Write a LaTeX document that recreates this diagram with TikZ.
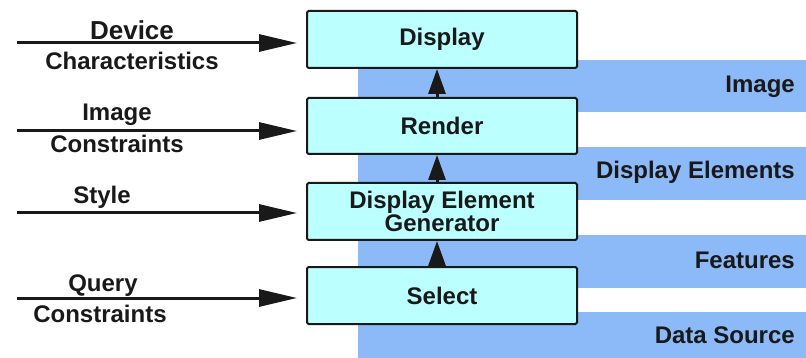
\documentclass[tikz,border=0pt]{standalone}
\usepackage{fontspec}
\setmainfont{Liberation Sans}
\usetikzlibrary{arrows.meta}
\definecolor{bandblue}{RGB}{140,185,248}
\definecolor{boxcyan}{RGB}{188,255,255}
\definecolor{ink}{RGB}{25,25,25}
\begin{document}
\begin{tikzpicture}[x=1pt,y=-1pt,
  procbox/.style={draw=ink,line width=2pt,fill=boxcyan,rounded corners=1.5pt,
    minimum width=270pt,minimum height=57pt,inner sep=0pt,align=center,
    font=\fontsize{24}{26}\selectfont\bfseries,text=ink},
  lbl/.style={font=\fontsize{24}{26}\selectfont\bfseries,text=ink,inner sep=0pt},
  biglbl/.style={font=\fontsize{26}{28}\selectfont\bfseries,text=ink,inner sep=0pt},
  inarrow/.style={draw=ink,line width=3pt,-{Triangle[length=38pt,width=17pt]},shorten >=9pt},
  uparrow/.style={draw=ink,line width=3pt,-{Triangle[length=25pt,width=17pt]}}
]
\useasboundingbox (0,0) rectangle (806,358);
\fill[white] (0,0) rectangle (806,358);
% background bands
\fill[bandblue] (358,60) rectangle (806,358);
\fill[white] (358,112) rectangle (806,147);
\fill[white] (358,200) rectangle (806,235);
\fill[white] (358,288) rectangle (806,312);
% right labels
\node[lbl,anchor=east] (limg) at (795,87) {Image};
\node[lbl,anchor=east] (lde) at (795,172) {Display Elements};
\node[lbl,anchor=east] (lfeat) at (795,260) {Features};
\node[lbl,anchor=east] (lds) at (795,335) {Data Source};
% boxes
\node[procbox] (disp) at (442,39.5) {Display};
\node[procbox,minimum height=56pt] (rend) at (442,126) {Render};
\node[procbox] (deg) at (442,211.5) {Display Element\\[-3pt]Generator};
\node[procbox] (sel) at (442,295.5) {Select};
% vertical arrows
\draw[uparrow] ([xshift=-5pt]rend.north) -- ([xshift=-5pt]disp.south);
\draw[uparrow] ([xshift=-5pt]deg.north) -- ([xshift=-5pt]rend.south);
\draw[uparrow] ([xshift=-5pt]sel.north) -- ([xshift=-5pt]deg.south);
% input arrows
\coordinate (a1) at (17,43);
\coordinate (a2) at (17,131);
\coordinate (a3) at (17,213);
\coordinate (a4) at (17,298);
\draw[inarrow] (a1) -- (a1 -| disp.west);
\draw[inarrow] (a2) -- (a2 -| rend.west);
\draw[inarrow] (a3) -- (a3 -| deg.west);
\draw[inarrow] (a4) -- (a4 -| sel.west);
% input labels
\node[biglbl] (t1a) at (132,30) {Device};
\node[lbl] (t1b) at (132,61) {Characteristics};
\node[lbl] (t2a) at (117,115) {Image};
\node[lbl] (t2b) at (117,144) {Constraints};
\node[lbl] (t3a) at (102,197) {Style};
\node[lbl] (t4a) at (103,286) {Query};
\node[lbl] (t4b) at (100,314) {Constraints};
\end{tikzpicture}
\end{document}
